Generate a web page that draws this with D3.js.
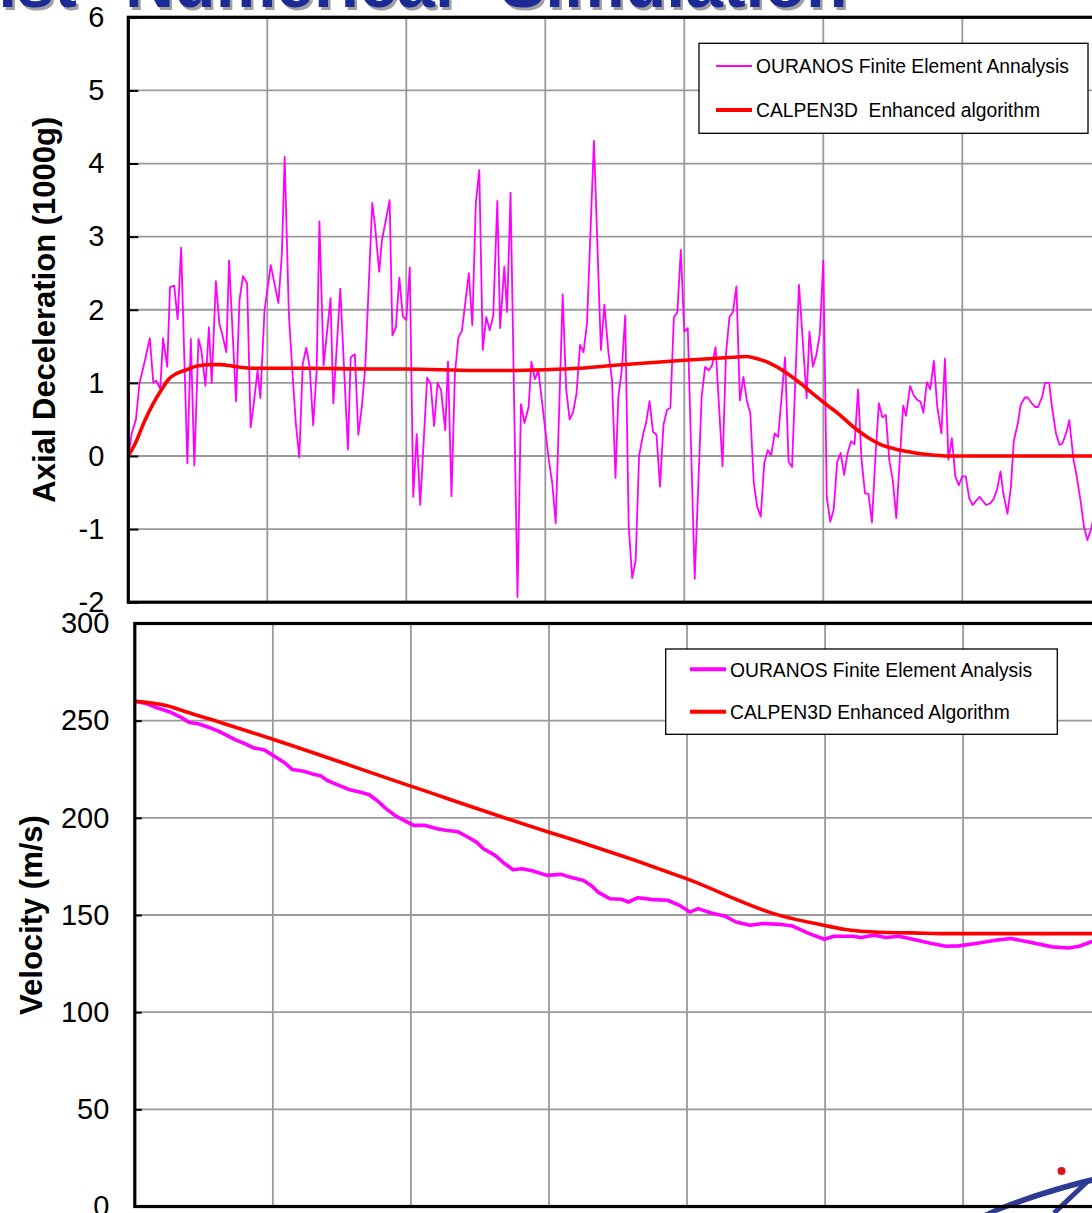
<html>
<head>
  <meta charset="utf-8">
  <title>Validation against Numerical Simulation</title>
  <script src="https://cdn.jsdelivr.net/npm/d3@7"></script>
  <style>
    body { margin: 0; background: #fff; }
  </style>
</head>
<body>
  <script>
    // time in ms, acceleration in 1000 g
    const timeTicks = [0, 2, 4, 6, 8, 10, 12, 14];
    const accTicks = [-2, -1, 0, 1, 2, 3, 4, 5, 6];
    const velTicks = [0, 50, 100, 150, 200, 250, 300];

    const accLegend = ["OURANOS Finite Element Annalysis", "CALPEN3D  Enhanced algorithm"];
    const velLegend = ["OURANOS Finite Element Analysis", "CALPEN3D Enhanced Algorithm"];

    const femAccel = [
      [0.00,0.00],[0.05,0.31],[0.11,0.50],[0.16,0.99],[0.24,1.31],[0.31,1.61],[0.36,1.00],[0.40,1.03],
      [0.46,0.92],[0.50,1.61],[0.56,1.22],[0.60,2.31],[0.66,2.33],[0.71,1.87],[0.76,2.85],[0.85,-0.10],
      [0.90,1.60],[0.95,-0.13],[1.01,1.60],[1.05,1.45],[1.11,0.96],[1.16,1.76],[1.20,1.00],[1.26,2.39],
      [1.31,1.81],[1.35,1.67],[1.41,1.42],[1.45,2.67],[1.55,0.75],[1.60,2.13],[1.65,2.46],[1.71,2.36],
      [1.76,0.39],[1.80,0.67],[1.86,1.17],[1.90,0.79],[1.96,1.99],[2.05,2.61],[2.16,2.09],[2.21,2.77],
      [2.25,4.09],[2.31,1.95],[2.36,1.17],[2.41,0.45],[2.46,-0.02],[2.51,1.26],[2.56,1.48],[2.61,1.22],
      [2.66,0.42],[2.71,1.17],[2.75,3.21],[2.81,1.24],[2.91,2.16],[2.95,0.72],[3.05,2.29],[3.16,0.09],
      [3.20,1.35],[3.26,1.39],[3.31,0.29],[3.36,0.67],[3.41,1.22],[3.51,3.46],[3.55,3.15],[3.61,2.52],
      [3.65,2.95],[3.76,3.50],[3.80,1.65],[3.85,1.76],[3.90,2.44],[3.95,1.91],[4.00,1.86],[4.05,2.58],
      [4.10,-0.56],[4.15,0.30],[4.20,-0.67],[4.30,1.07],[4.35,0.99],[4.40,0.41],[4.45,1.00],[4.50,0.90],
      [4.56,0.35],[4.60,1.29],[4.65,-0.55],[4.70,1.13],[4.75,1.62],[4.80,1.71],[4.90,2.50],[4.95,1.79],
      [5.00,3.45],[5.05,3.91],[5.10,1.45],[5.15,1.90],[5.20,1.72],[5.25,1.91],[5.31,3.49],[5.35,1.75],
      [5.41,2.59],[5.45,1.97],[5.50,3.60],[5.60,-1.93],[5.65,0.71],[5.70,0.45],[5.76,0.67],[5.80,1.29],
      [5.85,1.05],[5.90,1.17],[6.05,-0.05],[6.10,-0.37],[6.15,-0.92],[6.25,2.21],[6.30,0.92],[6.35,0.50],
      [6.40,0.60],[6.45,0.86],[6.50,1.52],[6.55,1.42],[6.60,1.81],[6.70,4.31],[6.80,1.45],[6.85,2.07],
      [6.91,1.40],[6.96,1.04],[7.01,-0.30],[7.05,0.79],[7.10,1.17],[7.15,1.92],[7.20,-0.96],[7.25,-1.67],
      [7.30,-1.43],[7.35,0.01],[7.41,0.31],[7.45,0.45],[7.50,0.75],[7.55,0.33],[7.60,0.29],[7.65,-0.42],
      [7.70,0.42],[7.75,0.63],[7.80,0.66],[7.85,1.90],[7.90,1.96],[7.95,2.82],[8.00,1.70],[8.05,1.75],
      [8.15,-1.68],[8.25,0.82],[8.30,1.22],[8.35,1.17],[8.40,1.24],[8.45,1.49],[8.55,-0.14],[8.60,1.40],
      [8.65,1.90],[8.70,1.97],[8.75,2.32],[8.80,0.76],[8.85,1.08],[8.90,0.76],[8.95,0.58],[9.00,-0.37],
      [9.05,-0.70],[9.10,-0.83],[9.15,-0.10],[9.20,0.08],[9.25,0.01],[9.30,0.31],[9.35,0.26],[9.45,1.35],
      [9.50,-0.08],[9.55,-0.15],[9.65,2.34],[9.76,0.79],[9.80,1.70],[9.85,1.22],[9.90,1.38],[9.95,1.67],
      [10.00,2.67],[10.05,-0.56],[10.10,-0.90],[10.15,-0.73],[10.20,-0.08],[10.25,0.04],[10.30,-0.26],[10.35,0.04],
      [10.40,0.20],[10.45,0.16],[10.50,0.91],[10.55,-0.05],[10.60,-0.51],[10.65,-0.52],[10.70,-0.91],[10.75,-0.01],
      [10.80,0.72],[10.85,0.53],[10.90,0.56],[10.95,-0.06],[11.00,-0.33],[11.05,-0.85],[11.10,-0.05],[11.15,0.69],
      [11.19,0.55],[11.25,0.96],[11.30,0.83],[11.35,0.77],[11.40,0.74],[11.44,0.59],[11.49,1.01],[11.54,0.91],
      [11.59,1.30],[11.64,0.67],[11.70,0.31],[11.75,1.33],[11.80,-0.05],[11.85,0.24],[11.90,-0.28],[11.95,-0.40],
      [12.00,-0.28],[12.05,-0.28],[12.10,-0.58],[12.15,-0.67],[12.20,-0.61],[12.25,-0.56],[12.30,-0.62],[12.34,-0.67],
      [12.40,-0.65],[12.45,-0.59],[12.50,-0.46],[12.55,-0.21],[12.59,-0.51],[12.65,-0.79],[12.70,-0.42],[12.74,0.20],
      [12.80,0.45],[12.84,0.70],[12.90,0.80],[12.94,0.80],[13.00,0.72],[13.05,0.67],[13.09,0.67],[13.15,0.81],
      [13.19,1.00],[13.25,1.00],[13.29,0.67],[13.35,0.30],[13.40,0.15],[13.44,0.17],[13.50,0.33],[13.54,0.49],
      [13.60,-0.05],[13.64,-0.24],[13.70,-0.60],[13.75,-0.96],[13.80,-1.15],[13.85,-1.01],[13.90,-0.80]
    ];

    const calAccel = [
      [0,0],[0.10,0.17],[0.24,0.49],[0.36,0.72],[0.48,0.91],[0.58,1.05],[0.70,1.13],[0.84,1.18],
      [0.99,1.23],[1.18,1.25],[1.32,1.25],[1.56,1.22],[1.80,1.20],[2.5,1.20],[3.5,1.19],[4.0,1.19],
      [5.0,1.17],[5.5,1.17],[6.0,1.18],[6.5,1.20],[7.0,1.24],[8.0,1.31],[8.7,1.35],[8.9,1.36],
      [9.05,1.33],[9.25,1.26],[9.45,1.15],[9.65,1.01],[9.84,0.86],[10.05,0.70],[10.24,0.56],[10.43,0.40],
      [10.63,0.26],[10.82,0.16],[11.02,0.10],[11.21,0.06],[11.40,0.03],[11.60,0.01],[11.80,0],[14,0]
    ];

    // velocity in m/s
    const femVel = [
      [0,260],[0.16,258.9],[0.33,256.5],[0.52,254.3],[0.67,251.7],[0.79,249.1],[0.93,248.3],[1.10,246.2],
      [1.22,244.5],[1.34,242.3],[1.46,240.1],[1.58,238.4],[1.72,236.0],[1.87,235.0],[2.01,232.0],[2.16,228.6],
      [2.28,224.9],[2.45,224.0],[2.57,222.6],[2.69,221.6],[2.79,219.2],[2.93,217.1],[3.10,214.6],[3.27,213.2],
      [3.39,212.0],[3.51,208.9],[3.63,205.0],[3.77,201.2],[3.92,198.3],[4.04,196.1],[4.21,196.1],[4.38,194.4],
      [4.52,193.5],[4.67,193.0],[4.81,190.4],[4.95,187.5],[5.05,184.1],[5.22,180.7],[5.34,176.9],[5.48,173.3],
      [5.61,173.8],[5.77,172.6],[5.97,170.4],[6.18,170.9],[6.30,169.5],[6.50,167.8],[6.62,164.9],[6.71,161.8],
      [6.88,158.4],[7.05,158.1],[7.15,156.7],[7.29,158.9],[7.51,157.9],[7.72,157.6],[7.89,155.0],[8.04,151.5],
      [8.16,153.3],[8.35,151.0],[8.54,149.5],[8.71,146.4],[8.91,144.7],[9.10,145.6],[9.34,145.2],[9.53,144.3],
      [9.77,140.4],[9.99,137.5],[10.13,139.1],[10.40,139.1],[10.52,138.4],[10.71,139.6],[10.88,138.4],[11.07,139.1],
      [11.27,137.5],[11.51,135.6],[11.75,133.9],[11.94,134.1],[12.23,135.6],[12.47,137.0],[12.69,137.9],[12.95,136.1],
      [13.29,133.6],[13.53,133.0],[13.68,133.9],[13.85,136.1],[14.0,137.5]
    ];

    const calVel = [
      [0,260],[0.28,258.9],[0.47,257.7],[0.76,254.3],[1.24,249.1],[2.01,240.3],[4.00,216.3],[6.00,192.6],
      [6.45,187.6],[7.99,168.7],[9.34,149.8],[9.98,144.7],[10.30,142.5],[10.78,141.1],[11.27,140.8],
      [11.75,140.4],[14,140.4]
    ];

    const font = "'Liberation Sans', Arial, sans-serif";
    const magenta = "#ff00ff", red = "#ff0000";

    const svg = d3.select("body").append("svg")
      .attr("width", 1092)
      .attr("height", 1213)
      .style("font-family", font);

    // slide title, mostly cut off at the top
    const title = svg.append("g").attr("font-size", 68).attr("font-weight", "bold");
    const titleWords = [
      { text: "Validation against", x: 77, anchor: "end" },
      { text: "Numerical", x: 125, anchor: "start" },
      { text: "Simulation", x: 500, anchor: "start" }
    ];
    [["#a0a0a0", 2.5], ["#1c2a96", 0]].forEach(function (s) {
      title.selectAll(null)
        .data(titleWords)
        .enter()
        .append("text")
        .attr("x", d => d.x + s[1])
        .attr("y", 7 + s[1])
        .attr("text-anchor", d => d.anchor)
        .attr("fill", s[0])
        .text(d => d.text);
    });

    // logo in the corner
    const logo = svg.append("g");
    logo.append("path")
      .attr("d", "M984,1213 C1015,1199 1050,1187 1092,1177 L1092,1183 C1055,1192 1022,1203 996,1213 Z")
      .attr("fill", "#2e3b94");
    logo.append("path")
      .attr("d", "M1088,1181 L1054,1213")
      .attr("stroke", "#2e3b94")
      .attr("stroke-width", 5)
      .attr("fill", "none");
    logo.append("circle")
      .attr("cx", 1061.5).attr("cy", 1171).attr("r", 4)
      .attr("fill", "#e0101a");

    function drawChart(cfg) {
      const x = d3.scaleLinear().domain([0, 14]).range(cfg.xRange);
      const y = d3.scaleLinear().domain(cfg.yDomain).range(cfg.yRange);
      const g = svg.append("g");

      // gridlines
      g.selectAll(".vgrid")
        .data(timeTicks.slice(1))
        .enter()
        .append("line")
        .attr("x1", d => x(d)).attr("x2", d => x(d))
        .attr("y1", cfg.yRange[0]).attr("y2", cfg.yRange[1])
        .attr("stroke", "#9a9a9a").attr("stroke-width", 1.8);
      g.selectAll(".hgrid")
        .data(cfg.ticks.slice(1, -1))
        .enter()
        .append("line")
        .attr("x1", cfg.xRange[0]).attr("x2", cfg.xRange[1])
        .attr("y1", d => y(d)).attr("y2", d => y(d))
        .attr("stroke", "#9a9a9a").attr("stroke-width", 1.8);

      // y axis with inward ticks
      const axis = g.append("g")
        .attr("transform", "translate(" + cfg.xRange[0] + ",0)")
        .call(d3.axisLeft(y)
          .tickValues(cfg.ticks)
          .tickFormat(d => String(d))
          .tickSize(-cfg.tickLen)
          .tickSizeOuter(0)
          .tickPadding(cfg.pad));
      axis.select(".domain").remove();
      axis.attr("font-size", 29).attr("font-family", font);
      axis.selectAll("line").attr("stroke", "#000").attr("stroke-width", 2);
      axis.selectAll("text").attr("fill", "#000");

      // series
      const line = d3.line()
        .x(d => x(d[0]))
        .y(d => y(d[1]));
      cfg.series.forEach(function (s) {
        g.append("path")
          .datum(s.data)
          .attr("d", line.curve(s.smooth ? d3.curveMonotoneX : d3.curveLinear))
          .attr("fill", "none")
          .attr("stroke", s.color)
          .attr("stroke-width", s.width)
          .attr("stroke-linejoin", "round");
      });

      // frame
      g.append("rect")
        .attr("x", cfg.xRange[0]).attr("y", cfg.yRange[1])
        .attr("width", cfg.xRange[1] - cfg.xRange[0])
        .attr("height", cfg.yRange[0] - cfg.yRange[1])
        .attr("fill", "none")
        .attr("stroke", "#000")
        .attr("stroke-width", 3.2);

      // axis title
      g.append("text")
        .attr("transform", "translate(" + cfg.titleX + "," + (cfg.yRange[0] + cfg.yRange[1]) / 2 + ") rotate(-90)")
        .attr("text-anchor", "middle")
        .attr("font-size", 31)
        .attr("font-weight", "bold")
        .text(cfg.title);

      // legend
      const lg = g.append("g");
      lg.append("rect")
        .attr("x", cfg.legend.x).attr("y", cfg.legend.y)
        .attr("width", cfg.legend.w).attr("height", cfg.legend.h)
        .attr("fill", "#fff")
        .attr("stroke", "#000")
        .attr("stroke-width", 1.3);
      cfg.series.forEach(function (s, i) {
        const ly = cfg.legend.y + cfg.legend.first + i * cfg.legend.step;
        lg.append("line")
          .attr("x1", cfg.legend.x + cfg.legend.lineStart)
          .attr("x2", cfg.legend.x + cfg.legend.lineStart + 36)
          .attr("y1", ly).attr("y2", ly)
          .attr("stroke", s.color)
          .attr("stroke-width", s.legendWidth);
        lg.append("text")
          .attr("x", cfg.legend.x + cfg.legend.lineStart + 40)
          .attr("y", ly + 7.2)
          .attr("font-size", 19.3)
          .style("white-space", "pre")
          .text(cfg.labels[i]);
      });
    }

    drawChart({
      xRange: [128.3, 1101.3],
      yDomain: [-2, 6],
      yRange: [602.2, 17.3],
      ticks: accTicks,
      tickLen: 10,
      pad: 24,
      titleX: 55,
      title: "Axial Deceleration (1000g)",
      labels: accLegend,
      legend: { x: 699, y: 43.3, w: 389, h: 90, first: 22.7, step: 44, lineStart: 17 },
      series: [
        { data: femAccel, color: magenta, width: 1.8, legendWidth: 1.8, smooth: false },
        { data: calAccel, color: red, width: 3.6, legendWidth: 4, smooth: true }
      ]
    });

    drawChart({
      xRange: [134.8, 1101.2],
      yDomain: [0, 300],
      yRange: [1206.5, 623.5],
      ticks: velTicks,
      tickLen: 7,
      pad: 25.5,
      titleX: 41.5,
      title: "Velocity (m/s)",
      labels: velLegend,
      legend: { x: 665.7, y: 649, w: 391.6, h: 85.3, first: 20.3, step: 42.4, lineStart: 24.3 },
      series: [
        { data: femVel, color: magenta, width: 3.6, legendWidth: 4, smooth: false },
        { data: calVel, color: red, width: 3.6, legendWidth: 4, smooth: true }
      ]
    });
  </script>
</body>
</html>
